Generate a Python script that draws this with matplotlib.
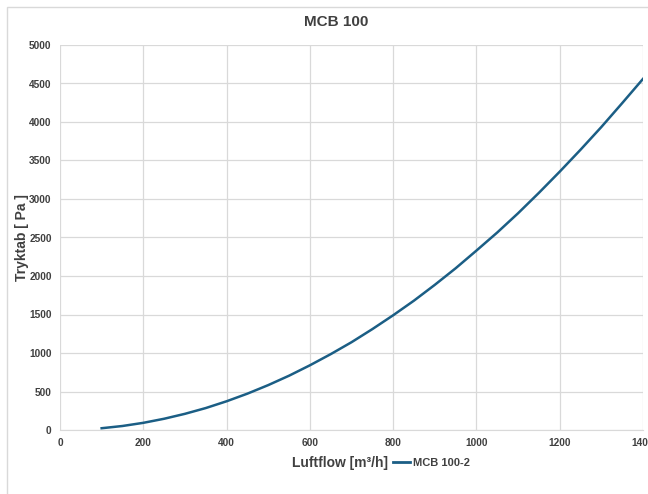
import matplotlib.pyplot as plt
from matplotlib.patches import Rectangle
from matplotlib.lines import Line2D

plt.rcParams['font.family'] = ['Liberation Sans', 'DejaVu Sans']
plt.rcParams['font.weight'] = 'bold'

# airflow [m3/h] and pressure drop [Pa]
flow = [100, 150, 200, 250, 300, 350, 400, 450, 500, 550, 600, 650, 700,
        750, 800, 850, 900, 950, 1000, 1050, 1100, 1150, 1200, 1250, 1300,
        1350, 1400]
pressure = [23, 52, 93, 146, 210, 285, 373, 472, 583, 705, 840, 985, 1140,
            1310, 1490, 1680, 1885, 2100, 2330, 2565, 2815, 3080, 3355, 3640,
            3935, 4245, 4560]

xticks = [0, 200, 400, 600, 800, 1000, 1200, 1400]
yticks = list(range(0, 5001, 500))

txt = '#404040'
grid = '#d9d9d9'
line_col = '#1b5e85'

fig = plt.figure(figsize=(6.48, 4.94), dpi=100)
fig.patches.append(Rectangle((7 / 648, -0.1), 1.2, 1 - 7 / 494 + 0.1,
                             transform=fig.transFigure, fill=False,
                             edgecolor=grid, linewidth=1))

ax = fig.add_axes([60 / 648, 64 / 494, 583 / 648, 385 / 494])
ax.plot(flow, pressure, color=line_col, linewidth=1.8, label='MCB 100-2')

ax.set_xlim(0, 1400)
ax.set_ylim(0, 5000)
ax.set_xticks(xticks)
ax.set_yticks(yticks)
ax.tick_params(length=0, labelsize=7.3, colors=txt, pad=6)
for lab in ax.get_xticklabels() + ax.get_yticklabels():
    lab.set_fontweight('bold')
ax.grid(True, color=grid, linewidth=0.9)
for s in ['top', 'right', 'left']:
    ax.spines[s].set_visible(False)
ax.spines['bottom'].set_color(grid)

fig.text(336 / 648, 1 - 22 / 494, 'MCB 100', ha='center', va='center',
         fontsize=11, fontweight='bold', color=txt)
ax.set_ylabel('Tryktab [ Pa ]', fontsize=10, fontweight='bold', color=txt)
ax.yaxis.set_label_coords(-31 / 583, 0.5)

fig.text(388 / 648, 1 - 463 / 494, 'Luftflow [m³/h]', ha='right', va='center',
         fontsize=10, fontweight='bold', color=txt)
handle = Line2D([], [], color=line_col, linewidth=2)
fig.legend([handle], ['MCB 100-2'], loc='center left',
           bbox_to_anchor=(393 / 648, 1 - 463 / 494), frameon=False,
           handlelength=1.5, handletextpad=0.3, borderaxespad=0,
           borderpad=0, prop={'size': 8, 'weight': 'bold'}, labelcolor=txt)

fig.savefig('out.png', dpi=100)
